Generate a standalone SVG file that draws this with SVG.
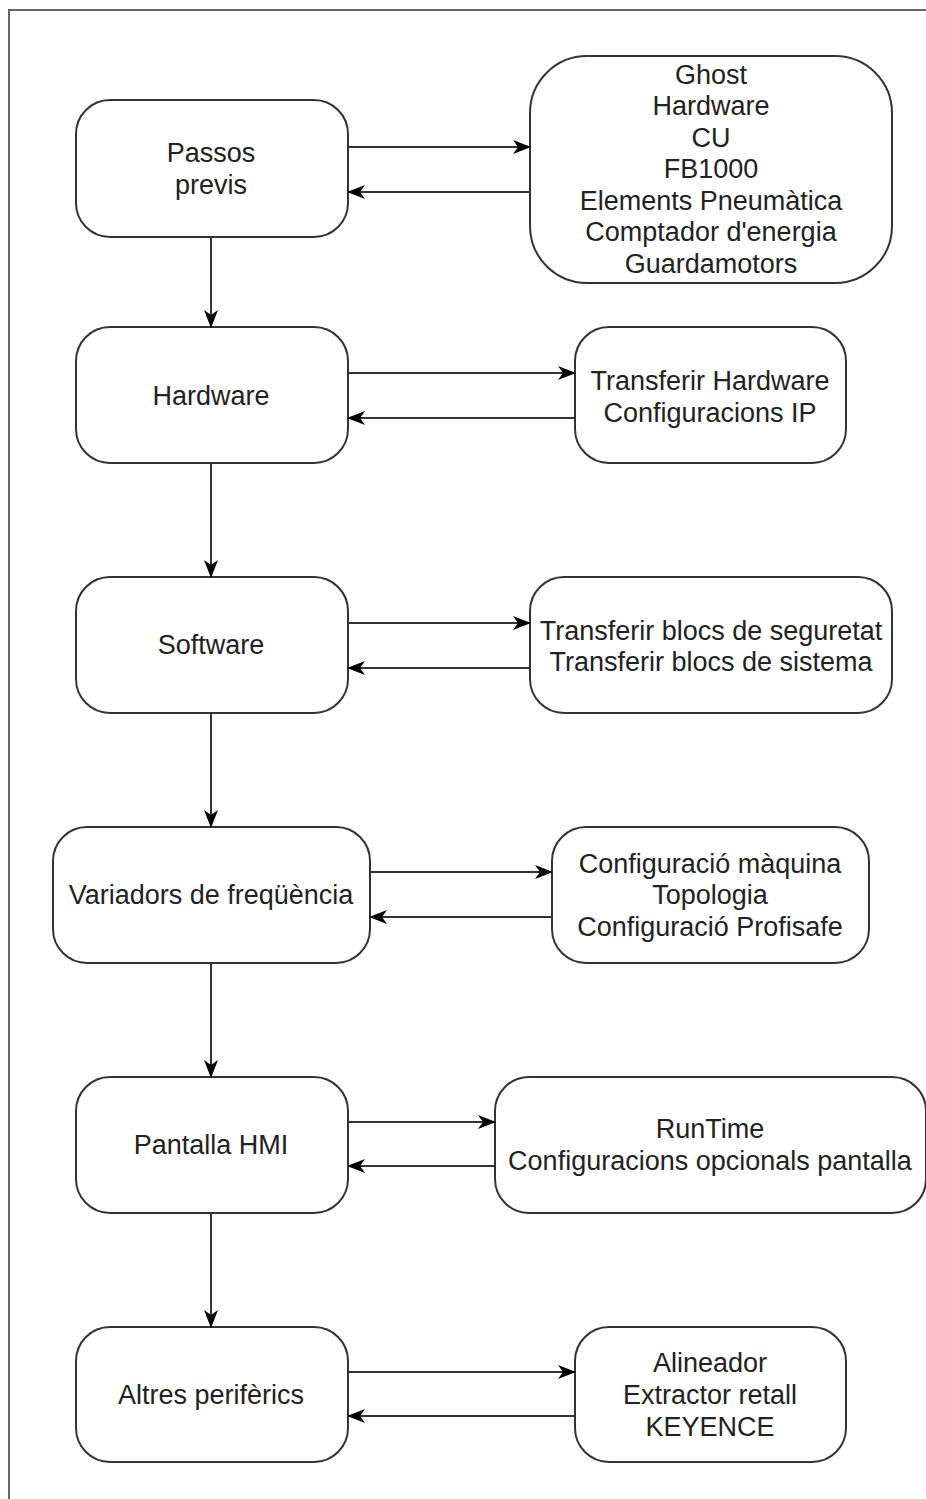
<svg xmlns="http://www.w3.org/2000/svg" width="926" height="1499" viewBox="0 0 926 1499">
<style>
.box{fill:#fff;stroke:#333;stroke-width:2}
.t{font-family:"Liberation Sans",Arial,sans-serif;font-size:27px;fill:#222;text-anchor:middle}
.c{stroke:#333;stroke-width:2;fill:none}
.frame{stroke:#666;stroke-width:2;fill:none}
</style>
<defs>
<marker id="ah" viewBox="0 0 18 14" refX="17" refY="7" markerWidth="18" markerHeight="14" markerUnits="userSpaceOnUse" orient="auto">
<path d="M0,0 L18,7 L0,14 L5,7 Z" fill="#000"/>
</marker>
</defs>
<path class="frame" d="M9,1499 V10 H926"/>
<g id="n1"><rect class="box" x="76" y="100" width="272" height="137" rx="34"/><text class="t" x="211" y="162">Passos</text><text class="t" x="211" y="194">previs</text></g>
<g id="n1r"><rect class="box" x="530" y="56" width="362" height="227" rx="57"/>
<text class="t" x="711" y="84">Ghost</text><text class="t" x="711" y="115">Hardware</text><text class="t" x="711" y="147">CU</text><text class="t" x="711" y="178">FB1000</text><text class="t" x="711" y="210">Elements Pneumàtica</text><text class="t" x="711" y="241">Comptador d'energia</text><text class="t" x="711" y="273">Guardamotors</text></g>
<g id="n2"><rect class="box" x="76" y="327" width="272" height="136" rx="34"/><text class="t" x="211" y="405">Hardware</text></g>
<g id="n2r"><rect class="box" x="575" y="327" width="271" height="136" rx="34"/><text class="t" x="710" y="390">Transferir Hardware</text><text class="t" x="710" y="422">Configuracions IP</text></g>
<g id="n3"><rect class="box" x="76" y="577" width="272" height="136" rx="34"/><text class="t" x="211" y="654">Software</text></g>
<g id="n3r"><rect class="box" x="530" y="577" width="362" height="136" rx="34"/><text class="t" x="711" y="640">Transferir blocs de seguretat</text><text class="t" x="711" y="671">Transferir blocs de sistema</text></g>
<g id="n4"><rect class="box" x="53" y="827" width="317" height="136" rx="34"/><text class="t" x="211" y="904">Variadors de freqüència</text></g>
<g id="n4r"><rect class="box" x="552" y="827" width="317" height="136" rx="34"/><text class="t" x="710" y="873">Configuració màquina</text><text class="t" x="710" y="904">Topologia</text><text class="t" x="710" y="936">Configuració Profisafe</text></g>
<g id="n5"><rect class="box" x="76" y="1077" width="272" height="136" rx="34"/><text class="t" x="211" y="1154">Pantalla HMI</text></g>
<g id="n5r"><rect class="box" x="495" y="1077" width="431" height="136" rx="34"/><text class="t" x="710" y="1138">RunTime</text><text class="t" x="710" y="1170">Configuracions opcionals pantalla</text></g>
<g id="n6"><rect class="box" x="76" y="1327" width="272" height="135" rx="34"/><text class="t" x="211" y="1404">Altres perifèrics</text></g>
<g id="n6r"><rect class="box" x="575" y="1327" width="271" height="135" rx="34"/><text class="t" x="710" y="1372">Alineador</text><text class="t" x="710" y="1404">Extractor retall</text><text class="t" x="710" y="1436">KEYENCE</text></g>
<g id="connectors">
<path class="c" d="M348,147 H530" marker-end="url(#ah)"/>
<path class="c" d="M530,192 H348" marker-end="url(#ah)"/>
<path class="c" d="M348,373 H575" marker-end="url(#ah)"/>
<path class="c" d="M575,418 H348" marker-end="url(#ah)"/>
<path class="c" d="M348,623 H530" marker-end="url(#ah)"/>
<path class="c" d="M530,668 H348" marker-end="url(#ah)"/>
<path class="c" d="M370,872 H552" marker-end="url(#ah)"/>
<path class="c" d="M552,917 H370" marker-end="url(#ah)"/>
<path class="c" d="M348,1122 H495" marker-end="url(#ah)"/>
<path class="c" d="M495,1166 H348" marker-end="url(#ah)"/>
<path class="c" d="M348,1372 H575" marker-end="url(#ah)"/>
<path class="c" d="M575,1416 H348" marker-end="url(#ah)"/>
<path class="c" d="M211,237 V327" marker-end="url(#ah)"/>
<path class="c" d="M211,463 V577" marker-end="url(#ah)"/>
<path class="c" d="M211,713 V827" marker-end="url(#ah)"/>
<path class="c" d="M211,963 V1077" marker-end="url(#ah)"/>
<path class="c" d="M211,1213 V1327" marker-end="url(#ah)"/>
</g>
</svg>
